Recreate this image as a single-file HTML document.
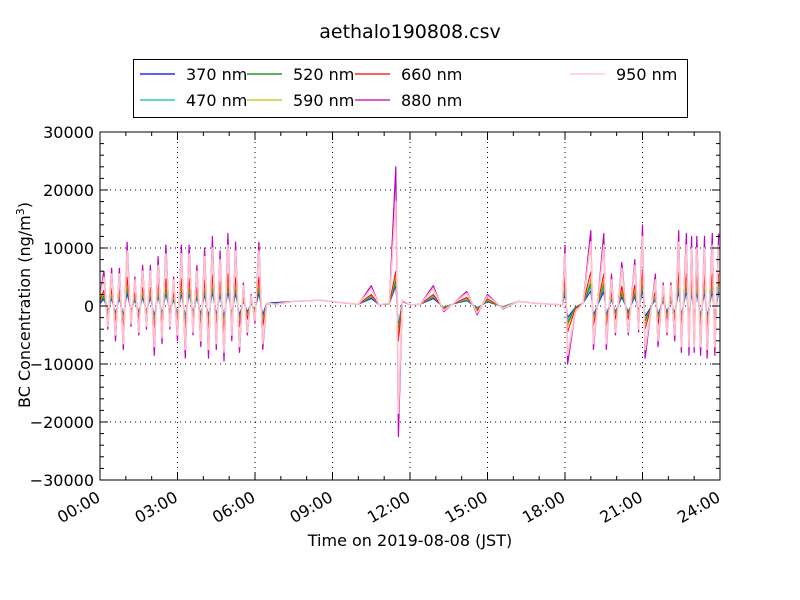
<!DOCTYPE html>
<html><head><meta charset="utf-8"><style>
body{margin:0;background:#fff;}
svg{display:block;font-family:"DejaVu Sans","Liberation Sans",sans-serif;}
</style></head><body>
<svg id="c" width="800" height="600"></svg>
<script>
const times=[0,0.15,0.3,0.45,0.6,0.75,0.9,1.05,1.2,1.35,1.5,1.65,1.8,1.95,2.1,2.25,2.4,2.55,2.7,2.85,3,3.15,3.3,3.45,3.6,3.75,3.9,4.05,4.2,4.35,4.5,4.65,4.8,4.95,5.1,5.25,5.4,5.55,5.7,5.85,6,6.15,6.3,6.45,
6.8,7.5,8.5,9.5,10,10.5,10.8,11.2,11.45,11.55,11.7,12,12.4,12.9,13.3,13.7,14.2,14.6,15,15.6,16.2,16.8,17.5,17.9,
18,18.1,18.4,18.7,19,19.1,19.5,19.6,19.8,19.95,20.2,20.45,20.7,20.85,21,21.1,21.5,21.6,21.8,21.95,22.1,22.25,22.4,22.5,22.7,22.8,22.9,23,23.1,23.25,23.4,23.5,23.7,23.8,23.95];
const v370=[0.4,1.2,-0.8,1.3,-1.2,1.3,-1.5,2.2,-0.7,1,-1,1.4,-0.8,1.4,-1.7,1.7,-1.3,2.1,-0.8,1,-1.2,2.1,-1.8,2.1,-1,1.4,-1.4,2,-1.8,2.4,-1.5,1.9,-1.9,2.5,-1.2,2.2,-1.6,0.8,-1,0.4,-0.6,2.2,-1.5,0.5,
0.6,0.8,1,0.5,0.3,1.3,0.2,0.4,3.5,-3.5,0.8,0.2,0.3,1.3,-0.2,0.4,0.9,-0.3,0.7,-0.1,0.8,0.5,0.3,0.2,
2.1,-2,-0.2,0.5,2.6,-1.5,2.5,-1.5,1.1,-1,1.5,-1,1.6,-0.9,2.8,-1.8,1.1,-1.4,0.8,-1,0.8,-1.2,2.6,-1.6,2.5,-1.7,2.4,-1.6,2.4,-1.7,2.4,-1.8,2.5,-1.7,2.5];
const v470=[0.5,1.5,-1,1.6,-1.5,1.6,-1.9,2.8,-0.9,1.3,-1.3,1.8,-1,1.8,-2.1,2.1,-1.6,2.6,-1,1.3,-1.5,2.6,-2.3,2.6,-1.3,1.8,-1.8,2.5,-2.3,3,-1.9,2.4,-2.4,3.1,-1.5,2.8,-2,1,-1.3,0.5,-0.8,2.8,-1.9,0.4,
0.5,0.8,1,0.5,0.3,1.5,0.2,0.4,4,-4,0.8,0.2,0.3,1.5,-0.2,0.4,1,-0.4,0.8,-0.1,0.8,0.5,0.3,0.2,
2.6,-2.5,-0.2,0.5,3.3,-1.9,3.1,-1.9,1.4,-1.3,1.9,-1.3,2,-1.1,3.5,-2.3,1.4,-1.8,1,-1.3,1,-1.5,3.3,-2,3.1,-2.1,3,-2,3,-2.1,3,-2.3,3.1,-2.1,3.1];
const v520=[0.7,1.8,-1.2,2,-1.8,2,-2.3,3.3,-1,1.5,-1.5,2.1,-1.2,2.1,-2.6,2.6,-2,3.2,-1.2,1.5,-1.8,3.2,-2.7,3.2,-1.5,2.1,-2.1,3,-2.7,3.6,-2.3,2.9,-2.9,3.8,-1.8,3.3,-2.4,1.2,-1.5,0.6,-0.9,3.3,-2.3,0.4,
0.4,0.8,1,0.5,0.3,1.7,0.2,0.4,4.5,-4.5,0.8,0.2,0.3,1.7,-0.3,0.4,1.2,-0.5,0.9,-0.2,0.8,0.5,0.3,0.2,
3.2,-3,-0.3,0.5,3.9,-2.3,3.8,-2.3,1.7,-1.5,2.3,-1.5,2.4,-1.4,4.2,-2.7,1.7,-2.1,1.2,-1.5,1.2,-1.8,3.9,-2.4,3.8,-2.6,3.6,-2.4,3.6,-2.6,3.6,-2.7,3.8,-2.6,3.8];
const v590=[0.8,2.1,-1.4,2.3,-2.1,2.3,-2.6,3.9,-1.2,1.8,-1.8,2.5,-1.4,2.5,-3,3,-2.3,3.7,-1.4,1.8,-2.1,3.7,-3.2,3.7,-1.8,2.5,-2.5,3.5,-3.2,4.2,-2.6,3.3,-3.3,4.4,-2.1,3.9,-2.8,1.4,-1.8,0.7,-1,3.9,-2.6,0.4,
0.4,0.8,1,0.5,0.3,1.8,0.2,0.4,5,-5,0.8,0.2,0.3,1.8,-0.4,0.4,1.3,-0.6,1,-0.2,0.8,0.5,0.3,0.2,
3.7,-3.5,-0.4,0.5,4.6,-2.6,4.4,-2.6,1.9,-1.8,2.6,-1.8,2.8,-1.6,4.9,-3.2,1.9,-2.5,1.4,-1.8,1.4,-2.1,4.6,-2.8,4.4,-3,4.2,-2.8,4.2,-3,4.2,-3.2,4.4,-3,4.4];
const v660=[1,2.7,-1.8,3,-2.7,3,-3.4,5,-1.6,2.3,-2.3,3.2,-1.8,3.2,-3.8,3.8,-2.9,4.7,-1.8,2.3,-2.7,4.7,-4,4.7,-2.3,3.2,-3.2,4.5,-4,5.4,-3.4,4.3,-4.3,5.6,-2.7,5,-3.6,1.8,-2.3,0.9,-1.4,5,-3.4,0.4,
0.4,0.8,1,0.5,0.3,2,0.2,0.4,6,-6,0.8,0.2,0.3,2,-0.5,0.4,1.5,-0.8,1.2,-0.3,0.8,0.5,0.3,0.2,
4.7,-4.5,-0.5,0.5,5.9,-3.4,5.6,-3.4,2.5,-2.3,3.4,-2.3,3.6,-2,6.3,-4,2.5,-3.2,1.8,-2.3,1.8,-2.7,5.9,-3.6,5.6,-3.8,5.4,-3.6,5.4,-3.8,5.4,-4,5.6,-3.8,5.6];
const v880=[2,6,-4,6.5,-6,6.5,-7.5,11,-3.5,5,-5,7,-4,7,-8.5,8.5,-6.5,10.5,-4,5,-6,10.5,-9,10.5,-5,7,-7,10,-9,12,-7.5,9.5,-9.5,12.5,-6,11,-8,4,-5,2,-3,11,-7.5,0.5,
0.3,0.8,1,0.5,0.3,3.5,0.2,0.5,24,-22.5,1,0.2,0.3,3.5,-1,0.5,2.5,-1.5,2,-0.5,0.8,0.5,0.3,0.2,
10.5,-10,-1,0.5,13,-7.5,12.5,-7.5,5.5,-5,7.5,-5,8,-4.5,14,-9,5.5,-7,4,-5,4,-6,13,-8,12.5,-8.5,12,-8,12,-8.5,12,-9,12.5,-8.5,12.5];
const v950=[1.7,5,-3.5,5.5,-5,5.5,-6.5,9.5,-3,4.5,-4.5,6,-3.5,6,-7,7,-5.5,9,-3.5,4.5,-5,9,-7.5,9,-4.5,6,-6,8.5,-7.5,10,-6.5,8,-8,10.5,-5,9.5,-7,3.5,-4.5,1.7,-2.5,9.5,-6.5,0.5,
0.3,0.8,1,0.5,0.3,3,0.2,0.5,18,-18.5,1,0.2,0.3,3,-0.8,0.5,2.2,-1.2,1.7,-0.4,0.8,0.5,0.3,0.2,
9,-8.5,-1,0.5,11,-6.5,10.5,-6.5,4.5,-4.5,6.5,-4.5,7,-4,12,-7.5,4.5,-6,3.5,-4.5,3.5,-5,11,-7,10.5,-7,10,-7,10,-7,10,-7.5,10.5,-7,10.5];
const yTicks=[-30000,-20000,-10000,0,10000,20000,30000];
const yTickLabels=["\u221230000","\u221220000","\u221210000","0","10000","20000","30000"];
const xTicks=[0,3,6,9,12,15,18,21,24];
const xTickLabels=["00:00","03:00","06:00","09:00","12:00","15:00","18:00","21:00","24:00"];
const seriesNames=["370 nm","470 nm","520 nm","590 nm","660 nm","880 nm","950 nm"];

const L=100,R=720,T=132,B=480;
const xs=h=>L+(h/24)*(R-L);
const ys=v=>B-(v+30000)/60000*(B-T);
const svg=document.getElementById('c');
const NS='http://www.w3.org/2000/svg';
function mk(tag,at,txt){const e=document.createElementNS(NS,tag);for(const k in at)e.setAttribute(k,at[k]);if(txt!==undefined)e.textContent=txt;svg.appendChild(e);return e;}

let t=mk('text',{x:410,y:38,'text-anchor':'middle','font-size':19},'aethalo190808.csv');



xTicks.forEach(h=>{if(h>0&&h<24){const g=mk('line',{x1:xs(h),x2:xs(h),y1:T,y2:B,stroke:'#000','stroke-dasharray':'1,4','stroke-width':1});

}});
yTicks.forEach(v=>{if(v>-30000&&v<30000){const g=mk('line',{x1:L,x2:R,y1:ys(v),y2:ys(v),stroke:'#000','stroke-dasharray':'1,4','stroke-width':1});

}});

const data=[v370,v470,v520,v590,v660,v880,v950];
const colors=['#0000ff','#00bfbf','#008000','#bfbf00','#ff0000','#bf00bf','#ffc0cb'];
const widths=[1,1,1,1,1,1.2,1.6];
data.forEach((arr,i)=>{
  const d=arr.map((v,j)=>(j?'L':'M')+xs(times[j]).toFixed(1)+','+ys(v*1000).toFixed(1)).join('');
  const p=mk('path',{d:d,fill:'none',stroke:colors[i],'stroke-width':widths[i],'stroke-linejoin':'round'});
  
  
});

const fr=mk('rect',{x:L,y:T,width:R-L,height:B-T,fill:'none',stroke:'#000','stroke-width':1});



for(let v=-30000;v<=30000;v+=2000){const len=(v%10000===0)?8:4;
  mk('line',{x1:L,x2:L+len,y1:ys(v),y2:ys(v),stroke:'#000'});
  mk('line',{x1:R,x2:R-len,y1:ys(v),y2:ys(v),stroke:'#000'});}
for(let h=0;h<=24;h+=1){const len=(h%3===0)?8:4;
  mk('line',{x1:xs(h),x2:xs(h),y1:B,y2:B-len,stroke:'#000'});
  mk('line',{x1:xs(h),x2:xs(h),y1:T,y2:T+len,stroke:'#000'});}
yTicks.forEach((v,i)=>{const e=mk('text',{x:L-6,y:ys(v)+6,'text-anchor':'end','font-size':16},yTickLabels[i]);

});
xTicks.forEach((h,i)=>{const x=xs(h),y=B+12;const e=mk('text',{x:x-3,y:y+8,'text-anchor':'end','font-size':16,transform:`rotate(-30 ${x} ${y})`},xTickLabels[i]);

});

t=mk('text',{x:410,y:546,'text-anchor':'middle','font-size':16},'Time on 2019-08-08 (JST)');


t=mk('text',{x:0,y:0,'text-anchor':'middle','font-size':16,transform:'translate(30,305) rotate(-90)'});


t.innerHTML='BC Concentration (ng/m<tspan dy="-6" font-size="11">3</tspan><tspan dy="6">)</tspan>';

const lg=mk('rect',{x:133.5,y:59.5,width:554,height:58,fill:'#fff',stroke:'#000'});


const pos=[[140,74],[140,100],[247,74],[247,100],[355,74],[355,100],[570,74]];
seriesNames.forEach((n,i)=>{const [x,y]=pos[i];
  const l=mk('line',{x1:x,x2:x+35,y1:y,y2:y,stroke:colors[i],'stroke-width':1.2});
  
  
  const e=mk('text',{x:x+46,y:y+6,'font-size':16},n);
  
  });
</script>
</body></html>
